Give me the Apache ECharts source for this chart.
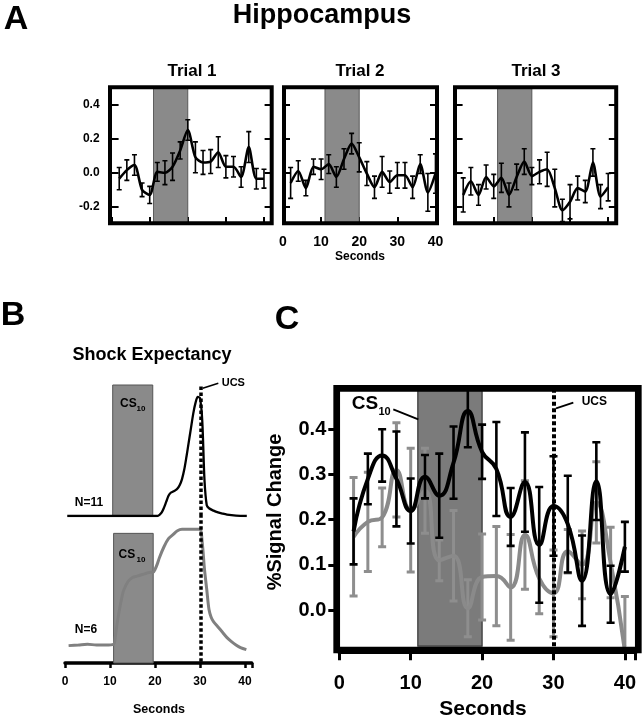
<!DOCTYPE html>
<html>
<head>
<meta charset="utf-8">
<script src="https://cdn.jsdelivr.net/npm/echarts@6/dist/echarts.min.js"></script>
<style>html,body{margin:0;padding:0;background:#fff}#c{width:643px;height:719px}</style>
</head>
<body>
<div id="c"></div>
<script>
// ---------- DATA ----------
const secs = [2,4,6,8,10,12,14,16,18,20,22,24,26,28,30,32,34,36,38,40];
const trial1Mean = [-0.035,0.015,0.045,-0.10,-0.13,0.005,0.0,0.035,0.13,0.25,0.09,0.06,0.065,0.12,0.035,0.035,-0.025,0.15,-0.035,-0.035];
const trial1Err  = [0.065,0.06,0.06,0.04,0.05,0.055,0.07,0.08,0.05,0.06,0.09,0.07,0.07,0.09,0.065,0.06,0.06,0.09,0.06,0.055];
const trial2Mean = [-0.06,0.01,-0.09,0.035,0.02,0.05,-0.025,0.08,0.17,0.09,-0.005,-0.085,0.005,-0.055,-0.015,-0.015,-0.085,0.05,-0.115,-0.005];
const trial2Err  = [0.09,0.06,0.045,0.045,0.06,0.055,0.06,0.06,0.06,0.085,0.07,0.065,0.09,0.065,0.075,0.075,0.065,0.055,0.11,0.115];
const trial3Mean = [-0.13,-0.05,-0.13,-0.025,-0.08,-0.03,-0.13,-0.025,0.065,-0.02,0.005,0.02,-0.09,-0.22,-0.17,-0.09,-0.11,0.06,-0.14,-0.085];
const trial3Err  = [0.1,0.08,0.06,0.07,0.07,0.085,0.07,0.075,0.075,0.05,0.07,0.1,0.11,0.065,0.1,0.07,0.065,0.08,0.07,0.08];

const cBlackMean = [0.174,0.29,0.342,0.29,0.219,0.295,0.253,0.326,0.44,0.35,0.312,0.206,0.283,0.144,0.23,0.19,0.065,0.285,0.035,0.14];
const cBlackErr  = [0.073,0.056,0.058,0.105,0.072,0.048,0.093,0.08,0.08,0.06,0.104,0.064,0.11,0.128,0.11,0.107,0.1,0.086,0.063,0.055];
const cGrayMean  = [0.162,0.195,0.205,0.31,0.221,0.264,0.11,0.12,0.004,0.073,0.075,0.05,0.166,0.07,0.037,0.13,0.1,0.238,0.105,-0.09];
const cGrayErr   = [0.131,0.11,0.065,0.104,0.137,0.094,0.045,0.1,0.063,0.095,0.11,0.117,0.12,0.078,0.096,0.048,0.075,0.09,0.078,0.12];

const shockTopSec = [0.5,5,10,15,20,20.5,21,21.5,22,22.5,23,23.5,24,24.5,25,25.5,26,26.5,27,27.5,28,28.5,29,29.5,30,30.5,31,31.5,32,33,34,35,36,38,40.4];
const shockTopVal = [0,0,0,0,0,0,0.01,0.03,0.07,0.12,0.17,0.195,0.205,0.215,0.23,0.26,0.31,0.39,0.5,0.62,0.74,0.86,0.95,1.0,0.99,0.8,0.3,0.09,0.065,0.045,0.03,0.02,0.012,0.004,0];
const shockBotSec = [0.8,3,5,7,9,10.8,11.2,11.6,12,12.5,13,14,15,16,17,18,19,19.6,20,20.5,21,22,23,24,25,26,27,28,29,30,30.5,31,31.5,32,32.5,33,34,35,36,37,38,39,40.3];
const shockBotVal = [0.13,0.135,0.14,0.135,0.135,0.14,0.2,0.3,0.38,0.47,0.54,0.61,0.64,0.65,0.66,0.67,0.68,0.68,0.7,0.74,0.79,0.87,0.93,0.96,0.99,1.0,1.0,1.0,1.0,1.0,0.9,0.7,0.55,0.4,0.34,0.31,0.27,0.23,0.19,0.16,0.135,0.115,0.1];

const xTickVals = [0,10,20,30,40];
const yTicksA = [-0.2,0,0.2,0.4];
const yTicksC = [0,0.1,0.2,0.3,0.4];
const csWindowA = [11,20];
const csWindowC = [11,20];
const csWindowBTop = [10.6,19.5];
const csWindowBBot = [10.8,19.6];
const ucsTime = 30;
const ucsTimeB = 30.2;

// ---------- HELPERS ----------
const FONT = "'Liberation Sans', Arial, Helvetica, sans-serif";
function pairs(xs, ys){ return xs.map((x,i)=>[x, ys[i]]); }
function errData(xs, m, e){ return xs.map((x,i)=>[x, m[i]-e[i], m[i]+e[i]]); }
function errSeries(xi, yi, data, color, lw, cap, z){
  return {
    type:'custom', xAxisIndex:xi, yAxisIndex:yi, data:data, z:z, silent:true, clip:true,
    renderItem:function(params, api){
      const x = api.value(0), lo = api.value(1), hi = api.value(2);
      const p1 = api.coord([x, hi]), p2 = api.coord([x, lo]);
      const cs = params.coordSys;
      const st = {stroke:color, lineWidth:lw, fill:null};
      return {type:'group',
        clipPath:{type:'rect', shape:{x:cs.x, y:cs.y, width:cs.width, height:cs.height}},
        children:[
          {type:'line', shape:{x1:p1[0],y1:p1[1],x2:p2[0],y2:p2[1]}, style:st},
          {type:'line', shape:{x1:p1[0]-cap/2,y1:p1[1],x2:p1[0]+cap/2,y2:p1[1]}, style:st},
          {type:'line', shape:{x1:p2[0]-cap/2,y1:p2[1],x2:p2[0]+cap/2,y2:p2[1]}, style:st}
        ]};
    }
  };
}
function txt(text, x, y, size, opts){
  opts = opts || {};
  return {type:'text', x:x, y:y, rotation:opts.rot||0, z:200,
    style:{text:text, font:'bold '+size+'px '+FONT, fill:opts.fill||'#000',
      align:opts.align||'center', verticalAlign:'middle',
      textAlign:opts.align||'center', textVerticalAlign:'middle'}};
}
function seg(x1,y1,x2,y2,w){
  return {type:'line', z:200, shape:{x1:x1,y1:y1,x2:x2,y2:y2}, style:{stroke:'#000', lineWidth:w}};
}
function frame(x,y,w,h,lw){
  return {type:'rect', z:150, shape:{x:x,y:y,width:w,height:h}, style:{fill:null, stroke:'#000', lineWidth:lw}};
}
function xFmt(v){ return xTickVals.indexOf(v)>=0? String(v):''; }

// ---------- AXES ----------
const trialGrids = [
  {left:111.6, top:87.2, width:160, height:136.8},
  {left:283, top:87.2, width:154, height:136.8},
  {left:455.6, top:87.2, width:160.2, height:136.8}
];
const trialXMax = [42, 40.4, 42];
const grid = trialGrids.concat([
  {left:65, top:385, width:186.75, height:131},
  {left:65, top:516, width:186.75, height:147},
  {left:339.3, top:388.5, width:296.3, height:257.7}
]);

const xAxis = [];
for (let k=0;k<3;k++){
  xAxis.push({type:'value', gridIndex:k, min:0, max:trialXMax[k], interval:10,
    axisLine:{show:false, onZero:false}, splitLine:{show:false},
    axisTick:{show:true, inside:true, length:7, lineStyle:{color:'#000', width:2}},
    axisLabel:{show:k===1, margin:11, color:'#000', fontWeight:'bold', fontSize:14, fontFamily:FONT,
      showMaxLabel:true, formatter:xFmt}
  });
}
xAxis.push({type:'value', gridIndex:3, min:0, max:41.5, show:false, axisLine:{onZero:false}});
xAxis.push({type:'value', gridIndex:4, min:0, max:41.5, interval:10,
  axisLine:{show:true, onZero:false, lineStyle:{color:'#000', width:3.5}}, splitLine:{show:false},
  axisTick:{show:true, length:5, lineStyle:{color:'#000', width:2.5}},
  axisLabel:{color:'#000', fontWeight:'bold', fontSize:12, fontFamily:FONT, margin:13, formatter:xFmt}});
xAxis.push({type:'value', gridIndex:5, min:0, max:41.5, interval:10, offset:6,
  axisLine:{show:true, onZero:false, lineStyle:{color:'#000', width:4}}, splitLine:{show:false},
  axisTick:{show:true, length:8, lineStyle:{color:'#000', width:3}},
  axisLabel:{color:'#000', fontWeight:'bold', fontSize:20, fontFamily:FONT, margin:21, formatter:xFmt}});

const yAxis = [];
for (let k=0;k<3;k++){
  ['left','right'].forEach(function(pos){
    yAxis.push({type:'value', gridIndex:k, position:pos, min:-0.3, max:0.5,
      axisLine:{show:false, onZero:false}, splitLine:{show:false},
      axisTick:{show:true, inside:true, length:7, customValues:yTicksA, lineStyle:{color:'#000', width:2}},
      axisLabel:{show:(k===0 && pos==='left'), customValues:yTicksA, margin:12, color:'#000',
        fontWeight:'bold', fontSize:12, fontFamily:FONT, formatter:function(v){return v.toFixed(1);}}
    });
  });
}
yAxis.push({type:'value', gridIndex:3, min:0, max:1.1, show:false, axisLine:{onZero:false}});
yAxis.push({type:'value', gridIndex:4, min:0, max:1.1, show:false, axisLine:{onZero:false}});
yAxis.push({type:'value', gridIndex:5, min:-0.08, max:0.49, offset:3,
  axisLine:{show:false, onZero:false}, splitLine:{show:false},
  axisTick:{show:true, length:8, customValues:yTicksC, lineStyle:{color:'#000', width:3}},
  axisLabel:{customValues:yTicksC, margin:10, color:'#000', fontWeight:'bold', fontSize:20, fontFamily:FONT,
    formatter:function(v){return v.toFixed(1);}}});

// ---------- SERIES ----------
const series = [];
const trialMeans = [trial1Mean, trial2Mean, trial3Mean];
const trialErrs = [trial1Err, trial2Err, trial3Err];
for (let k=0;k<3;k++){
  const yi = k*2;
  series.push({type:'line', xAxisIndex:k, yAxisIndex:yi, data:[], z:1, silent:true,
    markArea:{silent:true, itemStyle:{color:'#8a8a8a', borderColor:'#444', borderWidth:0.8},
      data:[[{xAxis:csWindowA[0]},{xAxis:csWindowA[1]}]]}});
  series.push(errSeries(k, yi, errData(secs, trialMeans[k], trialErrs[k]), '#000', 1.6, 5, 3));
  series.push({type:'line', xAxisIndex:k, yAxisIndex:yi, data:pairs(secs, trialMeans[k]), smooth:0.25,
    symbol:'none', z:4, silent:true, lineStyle:{color:'#000', width:2.6}});
}
// Panel B
const bTop = 6, bBot = 7;
series.push({type:'line', xAxisIndex:3, yAxisIndex:bTop, data:[], z:1, silent:true,
  markArea:{silent:true, itemStyle:{color:'#8a8a8a', borderColor:'#555', borderWidth:1},
    data:[[{xAxis:csWindowBTop[0], yAxis:0},{xAxis:csWindowBTop[1], yAxis:1.1}]]}});
series.push({type:'line', xAxisIndex:3, yAxisIndex:bTop, data:pairs(shockTopSec, shockTopVal), smooth:0.3,
  symbol:'none', z:4, silent:true, lineStyle:{color:'#000', width:2.3},
  markLine:{silent:true, symbol:['none','none'], label:{show:false},
    lineStyle:{color:'#000', width:3.5, type:[3.5,2.5]},
    data:[[{coord:[ucsTimeB,0]},{coord:[ucsTimeB,1.1]}]]}});
series.push({type:'line', xAxisIndex:4, yAxisIndex:bBot, data:[], z:1, silent:true,
  markArea:{silent:true, itemStyle:{color:'#8a8a8a', borderColor:'#555', borderWidth:1},
    data:[[{xAxis:csWindowBBot[0], yAxis:0},{xAxis:csWindowBBot[1], yAxis:0.97}]]}});
series.push({type:'line', xAxisIndex:4, yAxisIndex:bBot, data:pairs(shockBotSec, shockBotVal), smooth:0.3,
  symbol:'none', z:4, silent:true, lineStyle:{color:'#808080', width:3},
  markLine:{silent:true, symbol:['none','none'], label:{show:false},
    lineStyle:{color:'#000', width:3.5, type:[3.5,2.5]},
    data:[[{coord:[ucsTimeB,0.01]},{coord:[ucsTimeB,1.1]}]]}});
// Panel C
const cY = 8;
series.push({type:'line', xAxisIndex:5, yAxisIndex:cY, data:[], z:1, silent:true,
  markArea:{silent:true, itemStyle:{color:'#7b7b7b', borderColor:'#333', borderWidth:1.2},
    data:[[{xAxis:csWindowC[0]},{xAxis:csWindowC[1]}]]}});
series.push(errSeries(5, cY, errData(secs, cGrayMean, cGrayErr), '#8e8e8e', 3, 8, 3));
series.push({type:'line', xAxisIndex:5, yAxisIndex:cY, data:pairs(secs, cGrayMean), smooth:0.5,
  symbol:'none', z:4, silent:true, lineStyle:{color:'#8a8a8a', width:4}});
series.push(errSeries(5, cY, errData(secs, cBlackMean, cBlackErr), '#000', 2.6, 8, 5));
series.push({type:'line', xAxisIndex:5, yAxisIndex:cY, data:pairs(secs, cBlackMean), smooth:0.5,
  symbol:'none', z:6, silent:true, lineStyle:{color:'#000', width:4},
  markLine:{silent:true, symbol:['none','none'], label:{show:false}, z:10,
    lineStyle:{color:'#000', width:4, type:[4,2.5]},
    data:[[{coord:[ucsTime,-0.08]},{coord:[ucsTime,0.49]}]]}});

// ---------- GRAPHICS ----------
const graphic = [
  frame(110, 87.3, 161.7, 136, 4),
  frame(284, 87.3, 153, 136, 4),
  frame(455, 87.3, 161.2, 136, 4),
  frame(336.7, 388.3, 301.6, 261.7, 6.7),
  txt('A', 16, 20, 34),
  txt('Hippocampus', 322, 16, 27),
  txt('Trial 1', 192, 71, 17),
  txt('Trial 2', 360, 71, 17),
  txt('Trial 3', 536, 71, 17),
  txt('Seconds', 360, 257, 12),
  txt('B', 13, 316, 34),
  txt('Shock Expectancy', 152, 355, 18),
  txt('CS', 120, 404, 12, {align:'left'}),
  txt('10', 136.5, 408.5, 8, {align:'left'}),
  txt('CS', 118.5, 555, 12, {align:'left'}),
  txt('10', 136.5, 559.5, 8, {align:'left'}),
  txt('N=11', 89, 503, 12),
  txt('N=6', 86, 630, 12),
  txt('UCS', 221.7, 383, 11, {align:'left'}),
  seg(202.7, 388.3, 218.3, 383.3, 1.5),
  txt('Seconds', 159, 710, 12.5),
  txt('C', 287, 320, 34),
  txt('%Signal Change', 275, 512, 20, {rot:Math.PI/2}),
  txt('Seconds', 483, 709, 21),
  txt('CS', 351.7, 404, 19, {align:'left'}),
  txt('10', 378.5, 411.5, 11, {align:'left'}),
  seg(393.3, 409.3, 418.3, 419.3, 1.8),
  txt('UCS', 581.7, 402, 12, {align:'left'}),
  seg(556, 408.3, 573.3, 402.7, 1.8)
];

const chart = echarts.init(document.getElementById('c'), null, {renderer:'canvas'});
chart.setOption({
  animation:false,
  backgroundColor:'#fff',
  grid:grid, xAxis:xAxis, yAxis:yAxis, series:series, graphic:graphic
});
</script>
</body>
</html>
